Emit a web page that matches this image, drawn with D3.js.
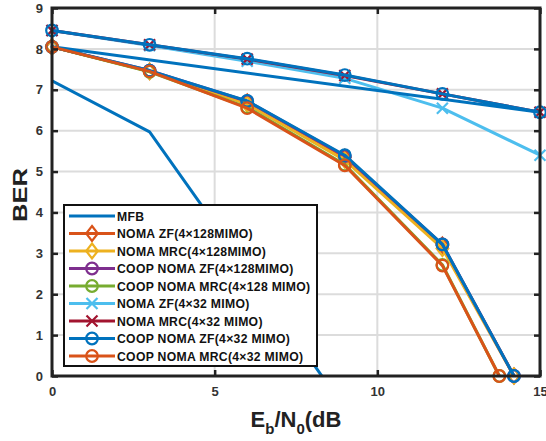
<!DOCTYPE html>
<html><head><meta charset="utf-8">
<script src="https://cdn.jsdelivr.net/npm/d3@7"></script>
<style>body{margin:0;background:#fff}svg{display:block;font-family:"Liberation Sans",Arial,sans-serif}</style>
</head><body><svg id="c" width="546" height="441"></svg>
<script>
// ---- data ----
const xTicks = [0, 5, 10, 15];
const yTicks = [0, 1, 2, 3, 4, 5, 6, 7, 8, 9];
const seriesNames = ["MFB","NOMA ZF(4×128MIMO)","NOMA MRC(4×128MIMO)","COOP NOMA ZF(4×128MIMO)","COOP NOMA MRC(4×128 MIMO)","NOMA ZF(4×32 MIMO)","NOMA MRC(4×32 MIMO)","COOP NOMA ZF(4×32 MIMO)","COOP NOMA MRC(4×32 MIMO)"];
const seriesColors = ["#0072BD","#D95319","#EDB120","#7E2F8E","#77AC30","#4DBEEE","#A2142F","#0072BD","#D95319"];
const seriesMarkers = ["none","diamond","diamond","circle","circle","x","x","circle","circle"];
const mfbX = [0, 3, 6, 9];
const mfbY = [7.22, 5.97, 2.6, -0.8];
const nomaZF128X = [0, 3, 6, 9, 12, 14.2];
const nomaZF128Y = [8.05, 7.45, 6.7, 5.35, 3.2, 0];
const nomaMRC128X = [0, 3, 6, 9, 12, 14.2];
const nomaMRC128Y = [8.05, 7.45, 6.65, 5.28, 3.12, 0];
const coopZF128X = [0, 3, 6, 9, 12, 14.2];
const coopZF128Y = [8.05, 7.47, 6.72, 5.38, 3.22, 0];
const coopMRC128X = [0, 3, 6, 9, 12, 13.75];
const coopMRC128Y = [8.05, 7.44, 6.57, 5.17, 2.72, 0];
const nomaZF32X = [0, 3, 6, 9, 12, 15];
const nomaZF32Y = [8.45, 8.08, 7.7, 7.28, 6.55, 5.4];
const nomaMRC32X = [0, 3, 6, 9, 12, 15];
const nomaMRC32Y = [8.45, 8.1, 7.75, 7.35, 6.9, 6.45];
const coopZF32X = [0, 3, 6, 9, 12, 15, 0, 3, 6, 9, 12, 14.2];
const coopZF32Y = [8.45, 8.1, 7.76, 7.36, 6.9, 6.45, 8.05, 7.47, 6.73, 5.4, 3.22, 0];
const coopMRC32X = [0, 3, 6, 9, 12, 13.75];
const coopMRC32Y = [8.05, 7.45, 6.55, 5.15, 2.7, 0];
const seriesX = [mfbX, nomaZF128X, nomaMRC128X, coopZF128X, coopMRC128X, nomaZF32X, nomaMRC32X, coopZF32X, coopMRC32X];
const seriesY = [mfbY, nomaZF128Y, nomaMRC128Y, coopZF128Y, coopMRC128Y, nomaZF32Y, nomaMRC32Y, coopZF32Y, coopMRC32Y];

// ---- layout ----
const L = 52, R = 540, T = 8, B = 376;
const svg = d3.select("#c");
const x = d3.scaleLinear().domain([0, 15]).range([L, R]);
const y = d3.scaleLinear().domain([0, 9]).range([B, T]);

// grid
const g = svg.append("g");
g.selectAll(".gx").data(xTicks.slice(1, -1)).join("line")
  .attr("x1", d => x(d)).attr("x2", d => x(d)).attr("y1", T).attr("y2", B)
  .attr("stroke", "#dcdcdc").attr("stroke-width", 2);
g.selectAll(".gy").data(yTicks.slice(1, -1)).join("line")
  .attr("y1", d => y(d)).attr("y2", d => y(d)).attr("x1", L).attr("x2", R)
  .attr("stroke", "#dcdcdc").attr("stroke-width", 2);

svg.append("defs").append("clipPath").attr("id", "clip")
  .append("rect").attr("x", L).attr("y", T).attr("width", R - L).attr("height", B - T);

const line = d3.line().x(d => x(d[0])).y(d => y(d[1]));

function marker(sel, type, color) {
  if (type === "circle") {
    sel.append("circle").attr("r", 5.8).attr("fill", "none").attr("stroke", color).attr("stroke-width", 2.2);
  } else if (type === "diamond") {
    sel.append("path").attr("d", "M0,-7.5L5.8,0L0,7.5L-5.8,0Z").attr("fill", "none").attr("stroke", color).attr("stroke-width", 2.2);
  } else if (type === "x") {
    sel.append("path").attr("d", "M-5.5,-5.5L5.5,5.5M-5.5,5.5L5.5,-5.5").attr("fill", "none").attr("stroke", color).attr("stroke-width", 2.2);
  }
}

seriesNames.forEach((name, i) => {
  const pts = seriesX[i].map((v, j) => [v, seriesY[i][j]]);
  const sg = svg.append("g");
  sg.append("path").attr("d", line(pts)).attr("fill", "none")
    .attr("stroke", seriesColors[i]).attr("stroke-width", 3)
    .attr("stroke-linejoin", "round")
    .attr("clip-path", i === 0 ? "url(#clip)" : null);
  if (seriesMarkers[i] !== "none") {
    pts.forEach(p => {
      const m = sg.append("g").attr("transform", `translate(${x(p[0])},${y(p[1])})`);
      marker(m, seriesMarkers[i], seriesColors[i]);
    });
  }
});

// axes box
const xAxisB = d3.axisBottom(x).tickValues(xTicks).tickSize(-6).tickPadding(11);
const yAxisL = d3.axisLeft(y).tickValues(yTicks).tickSize(-6).tickPadding(9);
const axB = svg.append("g").attr("transform", `translate(0,${B})`).call(xAxisB);
const axL = svg.append("g").attr("transform", `translate(${L},0)`).call(yAxisL);
const axT = svg.append("g").attr("transform", `translate(0,${T})`).call(d3.axisTop(x).tickValues(xTicks).tickSize(-6).tickFormat(""));
const axR = svg.append("g").attr("transform", `translate(${R},0)`).call(d3.axisRight(y).tickValues(yTicks).tickSize(-6).tickFormat(""));
[axB, axL, axT, axR].forEach(a => {
  a.select(".domain").remove();
  a.selectAll(".tick line").attr("stroke", "#222").attr("stroke-width", 2.5);
  a.selectAll("text").attr("fill", "#333").attr("font-size", 13).attr("font-weight", "bold")
    .attr("font-family", "Liberation Sans, Arial, sans-serif");
});
svg.append("rect").attr("x", L).attr("y", T).attr("width", R - L).attr("height", B - T)
  .attr("fill", "none").attr("stroke", "#222").attr("stroke-width", 3);

// axis labels
svg.append("text").attr("transform", `translate(27,${(T + B) / 2 + 3}) rotate(-90)`)
  .attr("text-anchor", "middle").attr("font-size", 21).attr("font-weight", "bold").attr("fill", "#222")
  .attr("textLength", 54).attr("lengthAdjust", "spacingAndGlyphs")
  .text("BER");
const xl = svg.append("text").attr("x", 296).attr("y", 427).attr("text-anchor", "middle")
  .attr("font-size", 22).attr("font-weight", "bold").attr("fill", "#222");
xl.append("tspan").text("E");
xl.append("tspan").attr("font-size", 15).attr("dy", 7).text("b");
xl.append("tspan").attr("dy", -7).text("/N");
xl.append("tspan").attr("font-size", 15).attr("dy", 7).text("0");
xl.append("tspan").attr("dy", -7).text("(dB");

// legend
const lg = svg.append("g");
lg.append("rect").attr("x", 64).attr("y", 205).attr("width", 253).attr("height", 161)
  .attr("fill", "#fff").attr("stroke", "#111").attr("stroke-width", 2);
seriesNames.forEach((name, i) => {
  const yy = 216 + i * 17.5;
  lg.append("line").attr("x1", 69).attr("x2", 115).attr("y1", yy).attr("y2", yy)
    .attr("stroke", seriesColors[i]).attr("stroke-width", 3);
  const m = lg.append("g").attr("transform", `translate(92,${yy})`);
  marker(m, seriesMarkers[i], seriesColors[i]);
  lg.append("text").attr("x", 117).attr("y", yy + 4.5).attr("font-size", 12.2).attr("font-weight", "bold")
    .attr("letter-spacing", 0.3).attr("fill", "#111").text(name);
});
</script>
</body></html>
